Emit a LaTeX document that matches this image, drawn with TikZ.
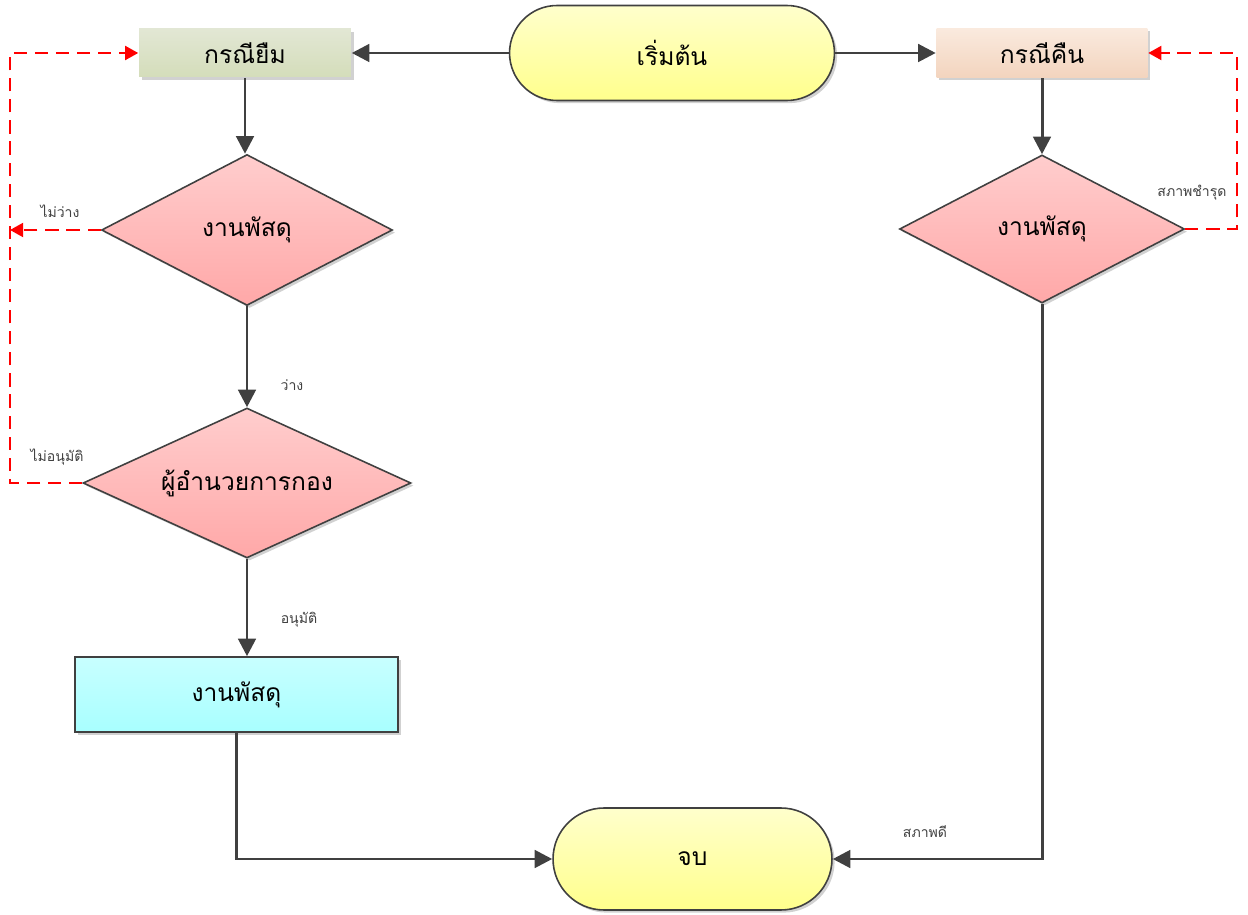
\documentclass[tikz,border=0pt]{standalone}
\usepackage{fontspec}
\setmainfont[Script=Thai]{Loma}
\usetikzlibrary{shapes.geometric,shapes.misc,arrows.meta,shadows}
\definecolor{edge}{HTML}{404040}
\definecolor{lbl}{HTML}{404040}
\tikzset{
  base/.style={draw=edge, line width=0.9pt, inner sep=0pt, font=\fontsize{14}{16}\selectfont,
    drop shadow={shadow xshift=1.5pt, shadow yshift=-1.5pt, fill=black, opacity=0.18}},
  term/.style={base, rounded rectangle, top color=yellow!20, bottom color=yellow!45},
  procg/.style={base, draw=none, rectangle, top color={rgb,255:red,226;green,231;blue,212}, bottom color={rgb,255:red,212;green,221;blue,186}},
  proco/.style={base, draw=none, rectangle, top color={rgb,255:red,250;green,234;blue,222}, bottom color={rgb,255:red,243;green,212;blue,190}},
  procc/.style={base, rectangle, top color={rgb,255:red,200;green,255;blue,255}, bottom color={rgb,255:red,168;green,255;blue,255}},
  dec/.style={base, diamond, aspect=2, top color={rgb,255:red,255;green,205;blue,205}, bottom color={rgb,255:red,255;green,168;blue,168}},
  flow/.style={draw=edge, line width=1.7pt, -{Triangle[length=10pt,width=10pt]}},
  back/.style={draw=red, line width=1.2pt, dash pattern=on 7.5pt off 4.5pt, -{Triangle[length=7.5pt,width=8pt]}},
  tag/.style={text=lbl, font=\fontsize{8}{10}\selectfont, inner sep=1pt}
}
\begin{document}
\begin{tikzpicture}[x=0.02cm, y=-0.02cm]
\useasboundingbox (0,0) rectangle (1248,915);
\node[term, minimum width=6.5cm, minimum height=1.9cm] (start) at (672,53) {เริ่มต้น};
\node[procg, minimum width=4.24cm, minimum height=0.96cm] (borrow) at (245,53) {กรณียืม};
\node[proco, minimum width=4.22cm, minimum height=0.98cm] (ret) at (1042,53) {กรณีคืน};
\node[dec, minimum width=5.82cm, minimum height=3.02cm] (d1) at (247,230) {งานพัสดุ};
\node[dec, minimum width=6.56cm, minimum height=3.0cm] (d2) at (247,483) {ผู้อำนวยการกอง};
\node[procc, minimum width=6.46cm, minimum height=1.5cm] (sup) at (236.5,694.5) {งานพัสดุ};
\node[term, minimum width=5.58cm, minimum height=2.04cm] (stop) at (692.5,859) {จบ};
\node[dec, minimum width=5.7cm, minimum height=2.96cm] (rd) at (1042,229) {งานพัสดุ};
\coordinate (lc) at (10,53);
\coordinate (rc) at (1237,53);
% solid connectors
\draw[flow] (start.west) -- (borrow.east);
\draw[flow] (start.east) -- (ret.west);
\draw[flow] (borrow.south) -- (borrow.south |- d1.north);
\draw[flow] (d1.south) -- (d2.north);
\draw[flow] (d2.south) -- (d2.south |- sup.north);
\draw[flow] (sup.south) |- (stop.west);
\draw[flow] (rd.south) |- (stop.east);
\draw[flow] (ret.south) -- (rd.north);
% dashed returns
\draw[back] (d1.west) -- (d1.west -| lc);
\draw[back] (d2.west) -| (lc) -- (borrow.west);
\draw[back] (rd.east) -| (rc) -- (ret.east);
% labels
\node[tag] (t1) at (60,211) {ไม่ว่าง};
\node[tag] (t2) at (292,385) {ว่าง};
\node[tag] (t3) at (57,457) {ไม่อนุมัติ};
\node[tag] (t4) at (299,620) {อนุมัติ};
\node[tag] (t5) at (1192,193) {สภาพชำรุด};
\node[tag] (t6) at (925,832) {สภาพดี};
\end{tikzpicture}
\end{document}
